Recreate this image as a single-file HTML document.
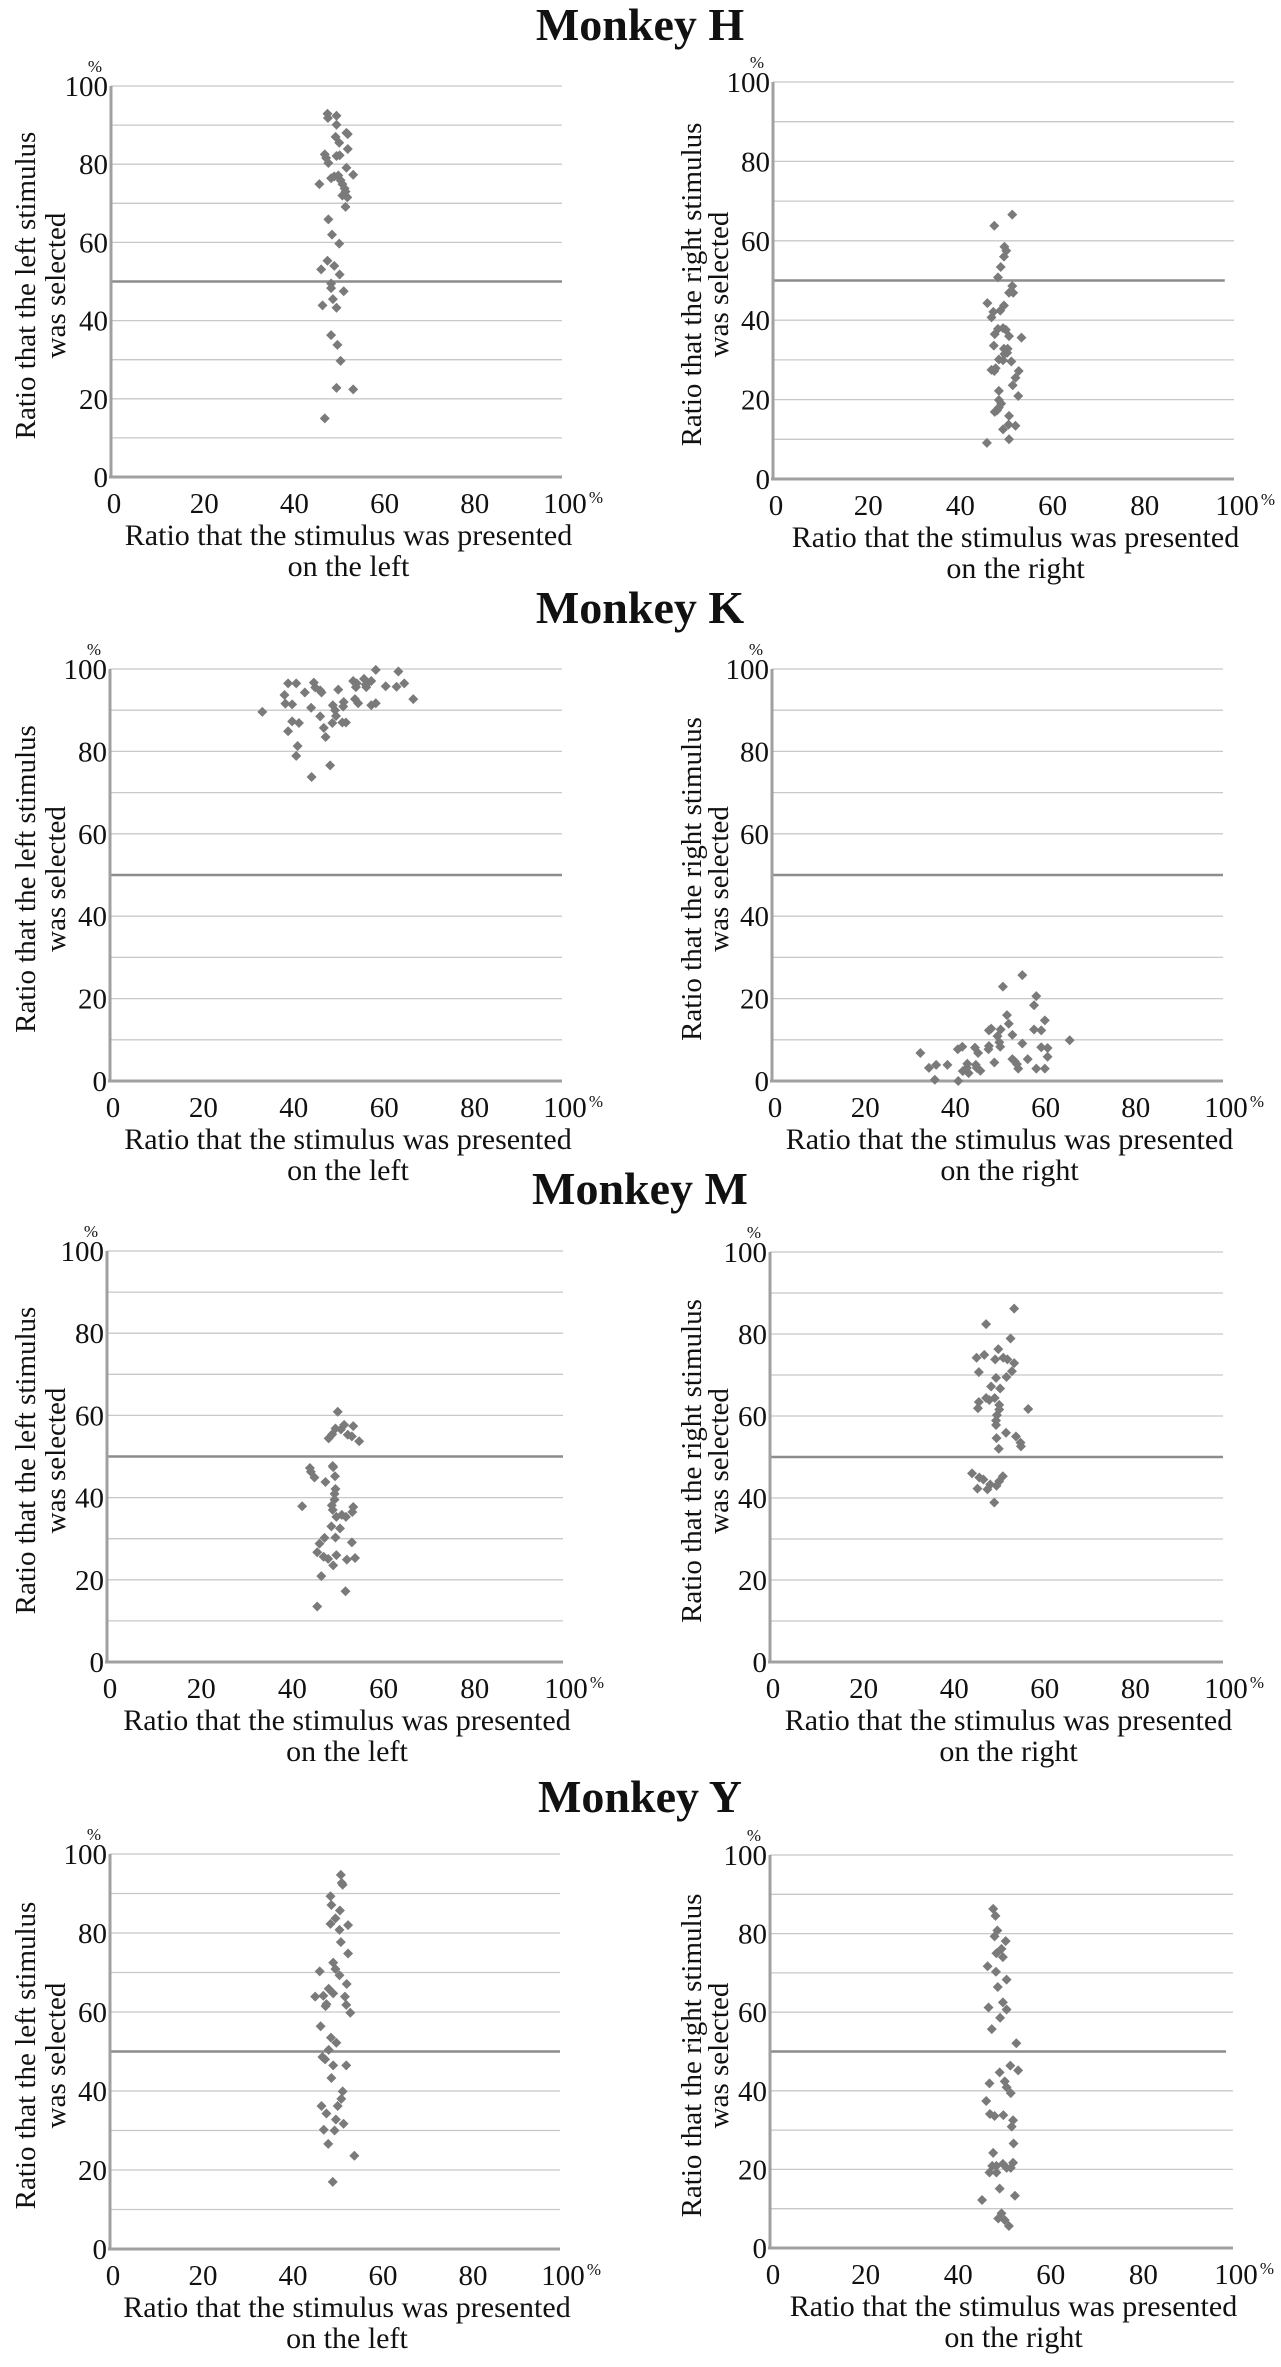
<!DOCTYPE html>
<html><head><meta charset="utf-8">
<style>
html,body{margin:0;padding:0;background:#fff;}
body{width:1281px;height:2362px;overflow:hidden;}
svg text{font-family:"Liberation Serif",serif;fill:#111;}
</style></head>
<body>
<svg id="fig" width="1281" height="2362" viewBox="0 0 1281 2362" xmlns="http://www.w3.org/2000/svg">
<text x="640" y="40" text-anchor="middle" font-size="46" font-weight="bold">Monkey H</text>
<text x="640" y="623" text-anchor="middle" font-size="46" font-weight="bold">Monkey K</text>
<text x="640" y="1204" text-anchor="middle" font-size="46" font-weight="bold">Monkey M</text>
<text x="640" y="1812" text-anchor="middle" font-size="46" font-weight="bold">Monkey Y</text>
</svg>
<script>
// ---- data (x = % presented, y = % selected) ----
const tickValues = [0,20,40,60,80,100];
const tickLabels = ["0","20","40","60","80","100"];
const hLeftX = [48,48.1,50,50,52.2,52.5,49.8,50.6,52.5,47.4,47.7,48.2,50,50.7,52.2,53.7,46.2,48.8,49.5,50.4,50.9,51.3,51.8,52,51.3,52.4,52,48.2,49,50.6,48,46.6,49.5,50.7,48.8,48.8,51.6,49.2,46.9,50,48.8,50.2,50.9,50,53.7,47.4];
const hLeftY = [92.9,91.8,92.4,90.1,88,87.7,87,85.5,83.9,82.5,81.6,80.3,82.1,82.3,79.1,77.3,74.9,76.4,76.9,77.1,75.9,74.9,73.8,73,72,71.5,69.1,65.9,62,59.7,55.3,53.1,54,51.8,49.5,48.3,47.5,45.5,43.9,43.3,36.3,33.8,29.7,22.8,22.4,15];
const hRightX = [51.9,48,50.2,50.6,50.1,49.4,48.8,51.9,51.2,52.1,46.5,50.1,49.3,47.8,47.4,48.8,49.9,48.1,50.5,51.2,53.9,47.9,50.1,50.9,50.2,50.8,49,49.9,51.7,48.3,47.4,48,53.3,52.6,52,53.2,49,49,49.5,49,48.6,48.1,51.2,51.1,52.6,49.9,51.2,46.4];
const hRightY = [66.6,63.8,58.5,57.5,56,53.4,50.8,48.6,46.9,46.9,44.3,43.7,42.4,42.1,40.7,37.8,38,36.5,37.6,36,35.6,33.6,32.8,32.8,31.5,31.8,30.1,29.9,29.6,27.9,27.5,27.2,27.2,25.5,23.6,20.9,22.2,19.9,19,18,17.3,16.9,15.9,13.7,13.4,12.5,10,9.1];
const kLeftX = [33.7,38.6,39.4,41.2,38.8,40.3,40.3,41.8,39.4,41.5,41.2,43.1,45.1,45.4,46.5,46.8,44.5,46.5,47.3,47.7,44.6,48.7,49.3,49.8,50,49.2,50.5,51.7,51.6,51.4,52.2,53.8,54.6,54.4,54.2,54.9,56.2,56.7,56.6,57.8,57.8,58.8,58.8,61,63.4,63.8,65.1,67.1];
const kLeftY = [89.6,93.7,96.5,96.5,91.6,91.4,87.3,86.9,84.9,81.3,78.9,94.3,96.7,95.5,94.8,94.3,90.6,88.5,85.7,83.5,73.8,76.6,91.2,90,88.6,86.9,95,92,90.9,87,87,97.1,96.5,95.6,92.7,91.7,97.6,95.6,96.2,97.1,91.2,91.7,99.8,95.8,95.7,99.4,96.5,92.7];
const kRightX = [32.9,34.8,36.4,36.1,38.9,41.3,41.2,42.2,43.3,43.2,42.3,43.6,45,45.7,45.2,45.4,46.2,48.1,48,48.1,48.6,49.3,50,50.4,50.6,50.7,51.2,52.1,52.5,53.3,53.3,53.8,54.3,54.6,55.5,55.5,56.7,58.1,58.1,58.6,58.6,59.7,59.7,60.5,60.5,61.1,61.1,66];
const kRightY = [6.8,3.2,3.9,0.3,3.9,0,7.7,8.3,4.2,3.2,2.4,1.9,8.1,6.8,3.9,3.2,2.5,8.5,7.7,12.3,12.7,4.5,10.9,9.4,8.3,12.5,22.9,16,13.9,11.2,5.3,4.8,4.1,3,9.1,25.7,5.3,12.5,18.4,20.6,3,12.3,8.2,14.7,3,8,5.9,9.9];
const mLeftX = [50.6,48.6,49.4,50.1,51.3,52,54,52.8,53.7,55.3,44.5,44.7,45.5,49.5,49.6,50,47.9,50.1,49.9,49.9,42.8,49.3,49.5,54,53.8,50.3,51.5,52.4,49.2,51.1,47.7,50.1,46.6,53.7,46.1,47.5,48.5,50.3,49.6,52.6,54.4,47,52.3,46.1];
const mLeftY = [60.9,54.4,55.4,56.8,56.6,57.7,57.4,55.3,54.9,53.7,47.2,46.3,44.9,47.7,47.4,45.2,43.8,42.1,40.9,39.5,37.9,38.1,37,37.7,36.5,35.3,35.8,35.3,33,32.5,30.2,30.3,28.8,29.1,26.7,25.6,25.1,26,23.5,24.9,25.3,20.9,17.2,13.5];
const mRightX = [53.9,47.7,53.1,50.4,45.6,47.3,49.7,51.5,52.4,53.9,46.1,53.4,49.9,52.2,48.8,50.8,47.7,48.4,49.6,46.1,45.9,50.6,50.6,57,50.1,49.9,49.9,52.1,54.3,55.3,55.4,50.5,50,44.6,46.2,47.1,45.8,48.6,48,50,50.6,51.4,49.5];
const mRightY = [86.2,82.4,78.9,76.3,74.2,74.9,73.8,74.2,73.8,72.9,70.7,70.9,69.3,69.5,67.2,66.7,64.4,63.9,64.4,63.4,61.9,62.7,61.6,61.7,60.2,58.9,57.8,55.9,55,53.5,52.6,52,54.6,46,45,44.5,42.3,43.3,42.1,43,44.1,45.3,38.9];
const yLeftX = [51.3,51.5,51.7,49,49.2,51.1,50.1,49,51,52.9,51.3,52.9,49.6,50.1,51,46.6,45.6,47.4,48.6,49.6,48.1,47.9,52.2,52.6,52.5,53.4,46.8,49.1,50.3,48.6,47.2,47.8,49.6,52.5,49.2,51.7,51.4,50.6,47,48.1,50.2,51.9,47.5,49.9,48.5,54.3,49.5];
const yLeftY = [94.7,92.7,92.2,89.3,87.1,85.7,83.7,82.3,80.8,82,77.7,74.8,72.5,70.9,69.3,70.3,63.9,64.1,65.9,64.7,62,61.5,63.9,67.1,61.8,59.8,56.4,53.5,52.2,50.4,48.6,48,46.5,46.5,43.3,39.9,38,36.2,36.2,34.3,32.8,31.7,30.2,30,26.6,23.6,17];
const yRightX = [48.2,48.7,49.1,48.5,50.9,50,48.9,50.3,47,48.8,51.1,49.2,50.3,51.1,47.2,49.7,47.9,53.2,51.9,53.6,49.6,50.7,51.1,52,47.4,46.7,47.5,48.5,50.4,52.5,52.2,52.6,48.2,48,48.9,50.3,51.1,52,52.5,47.4,48.9,49.6,52.9,45.8,50,49.3,50.7,51.6];
const yRightY = [86.3,84.5,80.8,79.3,78.1,76.1,75,74,71.7,70.3,68.3,66.4,62.5,60.7,61.2,58.6,55.7,52.1,46.4,45.2,44.7,42.4,40.9,39.4,41.9,37.4,34.1,33.6,33.8,32.5,30.9,26.6,24.2,20.9,20.9,21.4,20.4,20.4,21.7,19.2,19.2,15.1,13.3,12.2,8.8,7.5,7.1,5.6];

// ---- layout (pixel geometry) ----
const panels = [
 {id:'h-left', x0:111,x1:562,y0:86,y1:477, side:'left', line50:1, xs:hLeftX, ys:hLeftY},
 {id:'h-right',x0:773,x1:1234,y0:82,y1:479, side:'right',line50:0.98, xs:hRightX, ys:hRightY},
 {id:'k-left', x0:110,x1:562,y0:669,y1:1081, side:'left', line50:1, xs:kLeftX, ys:kLeftY},
 {id:'k-right',x0:772,x1:1223,y0:669,y1:1081, side:'right',line50:1, xs:kRightX, ys:kRightY},
 {id:'m-left', x0:107,x1:563,y0:1251,y1:1662, side:'left', line50:1, xs:mLeftX, ys:mLeftY},
 {id:'m-right',x0:770,x1:1223,y0:1252,y1:1662, side:'right',line50:1, xs:mRightX, ys:mRightY},
 {id:'y-left', x0:110,x1:560,y0:1854,y1:2249, side:'left', line50:1, xs:yLeftX, ys:yLeftY},
 {id:'y-right',x0:770,x1:1233,y0:1855,y1:2248, side:'right',line50:0.985, xs:yRightX, ys:yRightY}
];
const NS='http://www.w3.org/2000/svg';
const svg=document.getElementById('fig');
function mk(tag, attrs, parent){const e=document.createElementNS(NS,tag);for(const k in attrs)e.setAttribute(k,attrs[k]);(parent||svg).appendChild(e);return e;}

panels.forEach(p=>{
  const g=mk('g',{});
  
  
  const sx=v=>p.x0+(p.x1-p.x0)*v/100;
  const sy=v=>p.y1-(p.y1-p.y0)*v/100;
  for(let v=10; v<=100; v+=10){
    if(v===50) continue;
    const l=mk('line',{x1:p.x0,x2:p.x1,y1:sy(v),y2:sy(v),stroke:'#c8c8c8','stroke-width':1.3},g);
    
    
  }
  const l50=mk('line',{x1:p.x0,x2:p.x0+(p.x1-p.x0)*p.line50,y1:sy(50),y2:sy(50),stroke:'#8c8c8c','stroke-width':2.5},g);
  
  
  const ya=mk('line',{x1:p.x0,x2:p.x0,y1:p.y0,y2:p.y1,stroke:'#a0a0a0','stroke-width':3},g);
  
  
  const xa=mk('line',{x1:p.x0-2,x2:p.x1,y1:p.y1,y2:p.y1,stroke:'#a0a0a0','stroke-width':3},g);
  
  
  tickValues.forEach((v,i)=>{
    const t=mk('text',{x:p.x0-3,y:sy(v)+10,'text-anchor':'end','font-size':29},g);
    t.textContent=tickLabels[i];
    
    
    const t2=mk('text',{x:sx(v)+3,y:p.y1+36,'text-anchor':'middle','font-size':29},g);
    t2.textContent=tickLabels[i];
    
    
  });
  const pu=mk('text',{x:p.x0-16,y:p.y0-14,'text-anchor':'middle','font-size':17},g);
  pu.textContent='%';
  
  
  const pu2=mk('text',{x:p.x1+34,y:p.y1+26,'text-anchor':'middle','font-size':17},g);
  pu2.textContent='%';
  
  
  const cx=(p.x0+p.x1)/2+12;
  const xt=mk('text',{x:cx,y:p.y1+68,'text-anchor':'middle','font-size':30},g);
  xt.textContent='Ratio that the stimulus was presented';
  
  
  const xt2=mk('text',{x:cx,y:p.y1+99,'text-anchor':'middle','font-size':30},g);
  xt2.textContent= p.side==='left' ? 'on the left' : 'on the right';
  
  
  const cy=(p.y0+p.y1)/2+4;
  const lx1 = p.side==='left' ? 35 : 701;
  const lx2 = p.side==='left' ? 65 : 728;
  const yt=mk('text',{x:lx1,y:cy,'text-anchor':'middle','font-size':29,transform:`rotate(-90 ${lx1} ${cy})`},g);
  yt.textContent = p.side==='left' ? 'Ratio that the left stimulus' : 'Ratio that the right stimulus';
  
  
  const yt2=mk('text',{x:lx2,y:cy,'text-anchor':'middle','font-size':29,transform:`rotate(-90 ${lx2} ${cy})`},g);
  yt2.textContent='was selected';
  
  
  p.xs.forEach((xv,i)=>{
    const X=sx(xv), Y=sy(p.ys[i]), r=5;
    const d=mk('polygon',{points:`${X},${Y-r} ${X+r},${Y} ${X},${Y+r} ${X-r},${Y}`,fill:'#7a7a7a'},g);
    
    
  });
});
</script>
</body></html>
